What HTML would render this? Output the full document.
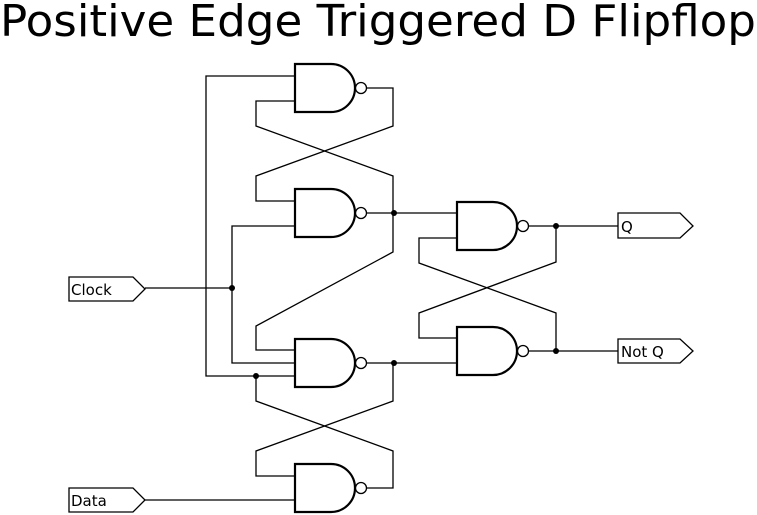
<!DOCTYPE html>
<html><head><meta charset="utf-8"><style>html,body{margin:0;padding:0;background:#fff}svg{display:block}</style></head><body>
<svg width="757" height="515" viewBox="0 0 757 515" xmlns="http://www.w3.org/2000/svg">
<rect width="757" height="515" fill="#fff"/>
<text x="378" y="36" text-anchor="middle" font-family="DejaVu Sans, Liberation Sans, sans-serif" font-size="44" textLength="756" lengthAdjust="spacingAndGlyphs">Positive Edge Triggered D Flipflop</text>
<defs>
<g id="nand"><path d="M0,-24 H36 A24,24 0 0 1 36,24 H0 Z" fill="#fff" stroke="#000" stroke-width="2.2"/><circle cx="66" cy="0" r="5.5" fill="#fff" stroke="#000" stroke-width="1.3"/></g>
</defs>
<g fill="none" stroke="#000" stroke-width="1.3">
<polyline points="295,76 206,76 206,376 295,376"/>
<polyline points="295,226 232,226 232,363 295,363"/>
<line x1="145" y1="288" x2="232" y2="288"/>
<polyline points="295,101 256,101 256,126 393,176 393,252 256,326 256,350 295,350"/>
<polyline points="367,88 393,88 393,126 256,176 256,201 295,201"/>
<line x1="367" y1="213" x2="457" y2="213"/>
<polyline points="367,363 457,363"/>
<polyline points="393,363 393,401 256,451 256,476 295,476"/>
<polyline points="256,376 256,401 393,451 393,488 367,488"/>
<line x1="145" y1="500" x2="295" y2="500"/>
<polyline points="529,226 618,226"/>
<polyline points="556,226 556,262 419,313 419,338 457,338"/>
<polyline points="457,238 419,238 419,263 556,313 556,351"/>
<polyline points="529,351 618,351"/>
<polygon points="69,277 133,277 145,289 133,301 69,301"/>
<polygon points="69,488 133,488 145,500 133,512 69,512"/>
<polygon points="618,213 680,213 693,226 680,238 618,238"/>
<polygon points="618,339 680,339 693,351 680,363 618,363"/>
</g>
<use href="#nand" x="295" y="88"/>
<use href="#nand" x="295" y="213"/>
<use href="#nand" x="295" y="363"/>
<use href="#nand" x="295" y="488"/>
<use href="#nand" x="457" y="226"/>
<use href="#nand" x="457" y="351"/>
<g fill="#000">
<circle cx="232" cy="288" r="3"/><circle cx="394" cy="213" r="3"/><circle cx="394" cy="363" r="3"/><circle cx="256" cy="376" r="3"/><circle cx="556" cy="226" r="3"/><circle cx="556" cy="351" r="3"/>
</g>
<g font-family="DejaVu Sans, Liberation Sans, sans-serif" font-size="15">
<text x="71" y="295">Clock</text>
<text x="71" y="506">Data</text>
<text x="621" y="232">Q</text>
<text x="621" y="357">Not Q</text>
</g>
</svg>
</body></html>
